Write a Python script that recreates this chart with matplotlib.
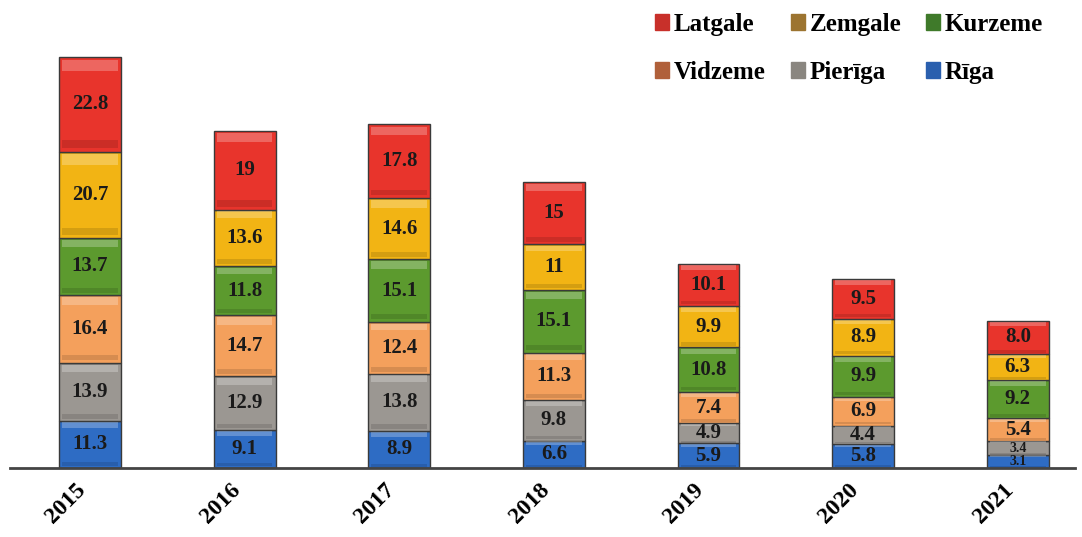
import matplotlib.pyplot as plt
import matplotlib.patches as mpatches
import matplotlib.transforms as mtransforms
import numpy as np

years = ["2015", "2016", "2017", "2018", "2019", "2020", "2021"]
riga = [11.3, 9.1, 8.9, 6.6, 5.9, 5.8, 3.1]
pieriga = [13.9, 12.9, 13.8, 9.8, 4.9, 4.4, 3.4]
vidzeme = [16.4, 14.7, 12.4, 11.3, 7.4, 6.9, 5.4]
kurzeme = [13.7, 11.8, 15.1, 15.1, 10.8, 9.9, 9.2]
zemgale = [20.7, 13.6, 14.6, 11.0, 9.9, 8.9, 6.3]
latgale = [22.8, 19.0, 17.8, 15.0, 10.1, 9.5, 8.0]
labels_txt = {
    "Latgale": ["22.8", "19", "17.8", "15", "10.1", "9.5", "8.0"],
    "Zemgale": ["20.7", "13.6", "14.6", "11", "9.9", "8.9", "6.3"],
}

series = [
    ("Rīga", riga, "#2e6cc4", "#2a5fae"),
    ("Pierīga", pieriga, "#9b9792", "#8a8680"),
    ("Vidzeme", vidzeme, "#f4a05c", "#b0603a"),
    ("Kurzeme", kurzeme, "#5c9a2e", "#3f7a2a"),
    ("Zemgale", zemgale, "#f2b414", "#9c7430"),
    ("Latgale", latgale, "#e8342c", "#c8302a"),
]

plt.rcParams['font.family'] = ['Liberation Serif', 'DejaVu Serif']

fig = plt.figure(figsize=(10.82, 5.37), dpi=100)
ax = fig.add_axes([10 / 1082, 69 / 537, 1065 / 1082, 468 / 537])

x = np.arange(len(years))
width = 0.40
bottom = np.zeros(len(years))
handles = {}
for name, vals, color, lcolor in series:
    vals = np.array(vals)
    ax.bar(x, vals, width, bottom=bottom, color=color,
           edgecolor="#3a3a3a", linewidth=1.0, zorder=2)
    # bevel: light strip on top, darker strip at the bottom of each segment
    ax.bar(x, vals * 0.12, width * 0.9, bottom=bottom + vals * 0.85,
           color="white", alpha=0.25, linewidth=0, zorder=3)
    ax.bar(x, vals * 0.08, width * 0.9, bottom=bottom + vals * 0.04,
           color="black", alpha=0.12, linewidth=0, zorder=3)
    txt = labels_txt.get(name, ["%.1f" % v for v in vals])
    for i in range(len(years)):
        fs = 15 if vals[i] >= 4 else 10
        ax.text(x[i], bottom[i] + vals[i] / 2, txt[i], ha="center", va="center",
                fontsize=fs, fontweight="bold", color="#1a1a1a", zorder=4)
    bottom += vals
    handles[name] = mpatches.Patch(color=lcolor, label=name)

ax.set_xlim(-0.517, 6.37)
ax.set_ylim(0, 112.5)
for s in ["top", "left", "right"]:
    ax.spines[s].set_visible(False)
ax.spines["bottom"].set_color("#444444")
ax.spines["bottom"].set_linewidth(2)
ax.set_yticks([])
ax.set_xticks(x)
ax.set_xticklabels(years, rotation=45, ha="right", rotation_mode="anchor",
                   fontsize=17, fontweight="bold")
ax.tick_params(axis="x", length=0, pad=14)
shift = mtransforms.ScaledTranslation(-0.15, 0.08, fig.dpi_scale_trans)
for lab in ax.get_xticklabels():
    lab.set_transform(lab.get_transform() + shift)

order = ["Latgale", "Vidzeme", "Zemgale", "Pierīga", "Kurzeme", "Rīga"]
leg = fig.legend([handles[n] for n in order], order, ncol=3, frameon=False,
                 loc="upper right", bbox_to_anchor=(0.985, 1.018),
                 prop={"family": "Liberation Serif", "weight": "bold", "size": 18},
                 handlelength=0.55, handleheight=0.55, handletextpad=0.2,
                 columnspacing=1.0, labelspacing=1.0)

fig.savefig("out.png", dpi=100)
